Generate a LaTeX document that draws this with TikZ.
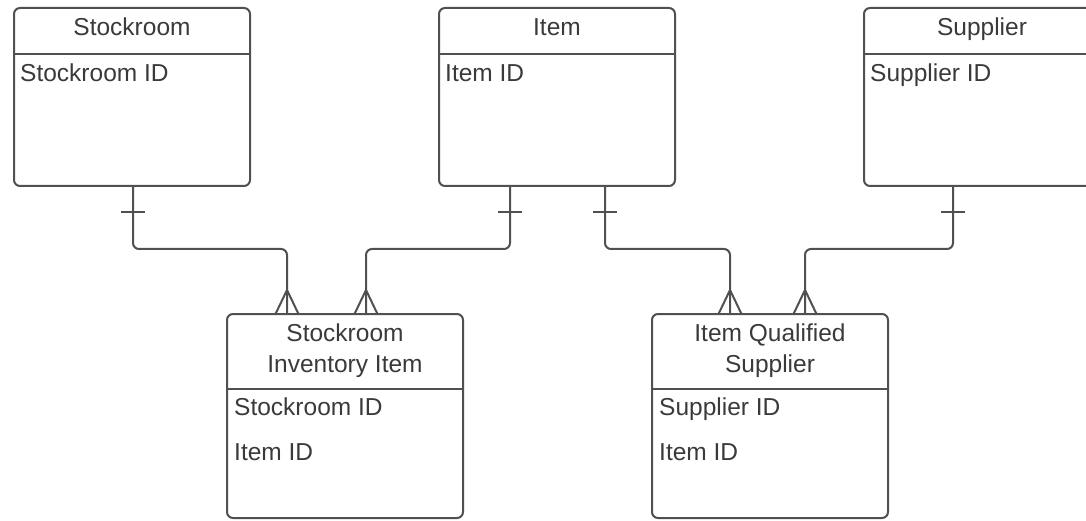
\documentclass[tikz,border=0pt]{standalone}
\usepackage{fontspec}
\setmainfont{Liberation Sans}
\usepackage{xcolor}
\usetikzlibrary{positioning}

\definecolor{erline}{HTML}{505050}
\definecolor{ertext}{HTML}{3a3a3a}

\begin{document}
\begin{tikzpicture}[x=1pt, y=-1pt,
  entitybox/.style={draw=erline, line width=2pt, rounded corners=6pt,
    minimum width=236pt, inner sep=0pt, outer sep=0pt},
  headtext/.style={text=ertext, font=\fontsize{24.5}{31}\selectfont,
    align=center, inner sep=0pt, anchor=base},
  attrtext/.style={text=ertext, font=\fontsize{24.5}{30}\selectfont,
    inner sep=0pt, anchor=base west},
  relline/.style={draw=erline, line width=2pt, rounded corners=6pt},
  onebar/.pic={\draw[erline, line width=2pt] (-12,0) -- (12,0);},
  manyend/.pic={\draw[erline, line width=2pt] (-11.5,0) -- (0,-24) -- (11.5,0);}]

  \useasboundingbox (0,0) rectangle (1086,521);

  % Entity boxes
  \node[entitybox, minimum height=178pt] (stockroom) at (132,97) {};
  \node[entitybox, minimum height=178pt] (item) at (557,97) {};
  \node[entitybox, minimum height=178pt] (supplier) at (982,97) {};
  \node[entitybox, minimum height=204pt] (stockinv) at (345,416) {};
  \node[entitybox, minimum height=204pt] (qualsup) at (770,416) {};

  % Header separators
  \foreach \ent in {stockroom,item,supplier}
    \draw[relline] ([yshift=-46pt]\ent.north west) -- ([yshift=-46pt]\ent.north east);
  \foreach \ent in {stockinv,qualsup}
    \draw[relline] ([yshift=-75pt]\ent.north west) -- ([yshift=-75pt]\ent.north east);

  % Entity names (base = last line)
  \node[headtext] (stockroom-name) at ([yshift=-28pt]stockroom.north) {Stockroom};
  \node[headtext] (item-name) at ([yshift=-28pt]item.north) {Item};
  \node[headtext] (supplier-name) at ([yshift=-28pt]supplier.north) {Supplier};
  \node[headtext] (stockinv-name) at ([yshift=-58pt]stockinv.north)
    {Stockroom\\Inventory Item};
  \node[headtext] (qualsup-name) at ([yshift=-58pt]qualsup.north)
    {Item Qualified\\Supplier};

  % Attributes
  \node[attrtext] (stockroom-id) at ([xshift=6pt,yshift=-74pt]stockroom.north west) {Stockroom ID};
  \node[attrtext] (item-id) at ([xshift=6pt,yshift=-74pt]item.north west) {Item ID};
  \node[attrtext] (supplier-id) at ([xshift=6pt,yshift=-74pt]supplier.north west) {Supplier ID};
  \node[attrtext] (stockinv-sid) at ([xshift=7pt,yshift=-101pt]stockinv.north west) {Stockroom ID};
  \node[attrtext] (stockinv-iid) at ([xshift=7pt,yshift=-146pt]stockinv.north west) {Item ID};
  \node[attrtext] (qualsup-sid) at ([xshift=7pt,yshift=-101pt]qualsup.north west) {Supplier ID};
  \node[attrtext] (qualsup-iid) at ([xshift=7pt,yshift=-146pt]qualsup.north west) {Item ID};

  % Relationships: one side bar, many side crow's foot
  \draw[relline] ([xshift=1pt]stockroom.south) -- ++(0,26) pic{onebar} -- ++(0,37)
    -| ([xshift=-58pt]stockinv.north);
  \draw[relline] ([xshift=-47pt]item.south) -- ++(0,26) pic{onebar} -- ++(0,37)
    -| ([xshift=21pt]stockinv.north);
  \draw[relline] ([xshift=48pt]item.south) -- ++(0,26) pic{onebar} -- ++(0,37)
    -| ([xshift=-40pt]qualsup.north);
  \draw[relline] ([xshift=-29pt]supplier.south) -- ++(0,26) pic{onebar} -- ++(0,37)
    -| ([xshift=35pt]qualsup.north);

  \pic at ([xshift=-58pt]stockinv.north) {manyend};
  \pic at ([xshift=21pt]stockinv.north) {manyend};
  \pic at ([xshift=-40pt]qualsup.north) {manyend};
  \pic at ([xshift=35pt]qualsup.north) {manyend};
\end{tikzpicture}
\end{document}
